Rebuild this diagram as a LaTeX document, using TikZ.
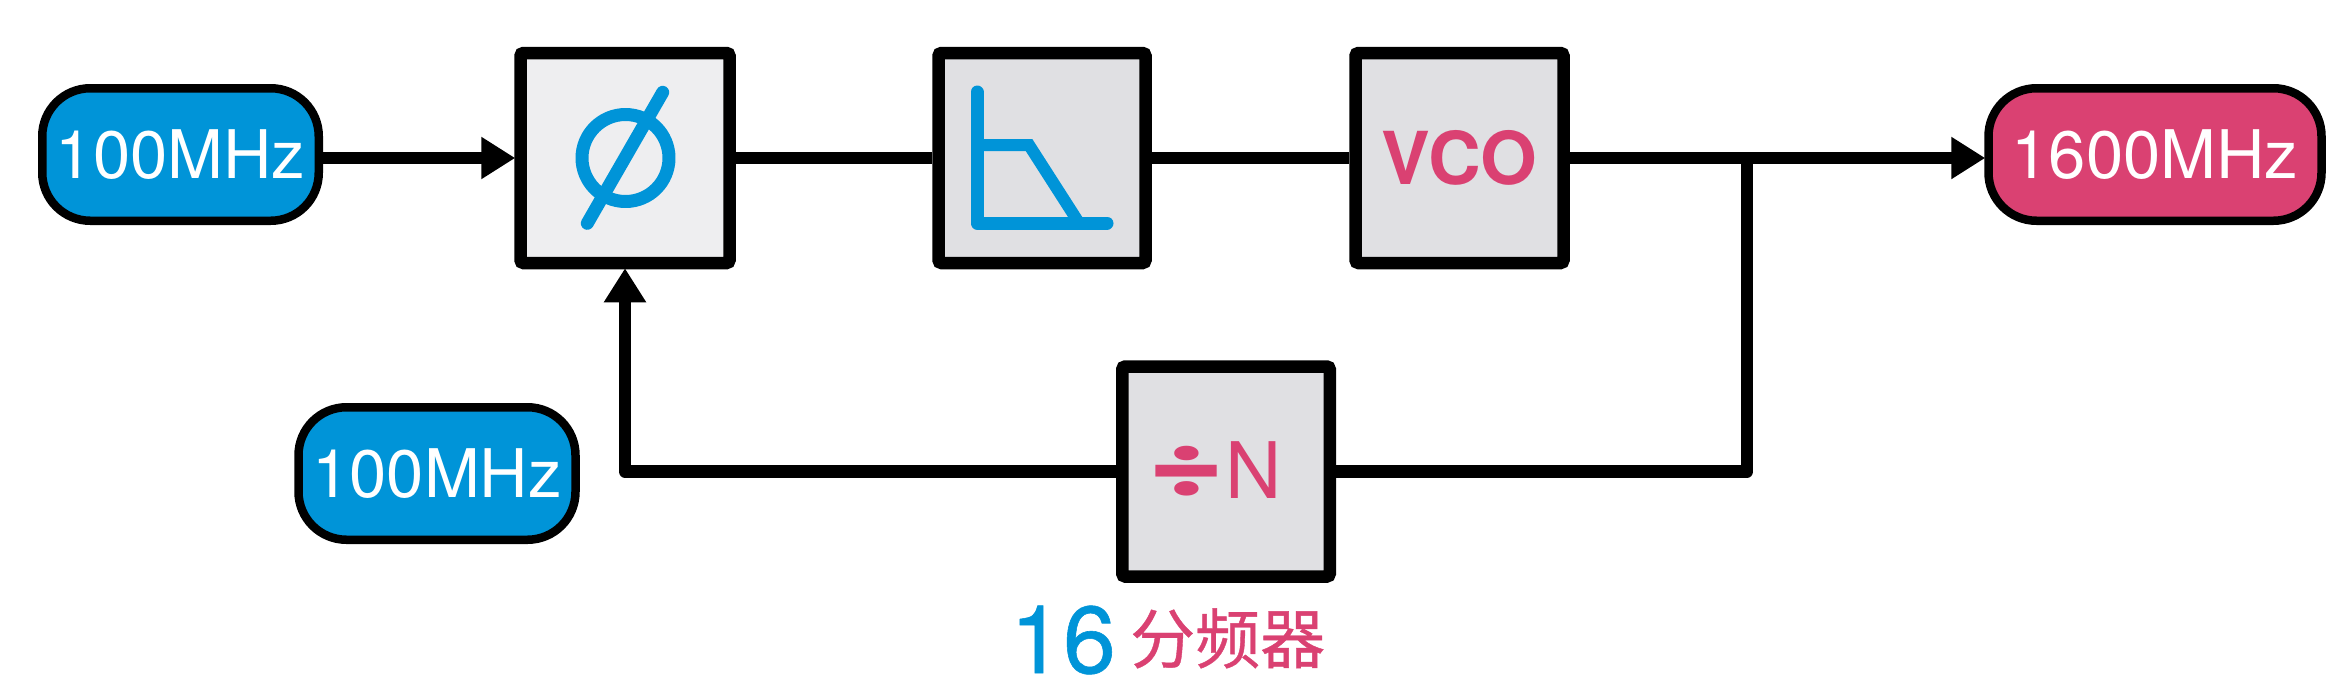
\documentclass[tikz,border=0pt]{standalone}
\usepackage{graphicx}
\usepackage{fontspec}
\setmainfont{TeX Gyre Heros}
\newfontfamily\numfont[FakeBold=0.6]{TeX Gyre Heros}
\newfontfamily\cjk[FakeBold=0.6]{Noto Sans CJK SC}
\newfontfamily\symfont{Poppins}
\usetikzlibrary{arrows.meta}
\definecolor{blueC}{HTML}{0094D8}
\definecolor{pinkC}{HTML}{DA4172}
\definecolor{boxA}{HTML}{EEEEF0}
\definecolor{boxB}{HTML}{E0E0E3}
\tikzset{
  block/.style={draw=black,line width=12.5pt,rounded corners=3pt,inner sep=0pt,minimum width=#1,minimum height=210pt,fill=boxB},
  pill/.style={draw=black,line width=8.5pt,rounded corners=48pt,inner sep=0pt,minimum width=#1,minimum height=132.5pt,text=white,font=\fontsize{67}{70}\selectfont},
  wire/.style={line width=12.5pt,line join=round},
  headwire/.style={wire,-{Triangle[length=34pt,width=40pt]},shorten >=-1pt},
  glyph/.style={blueC,line width=13pt,line cap=round,line join=round},
  mark text/.style={inner sep=0pt,text=pinkC},
}
\begin{document}
\begin{tikzpicture}[x=1pt,y=-1pt]
\useasboundingbox (0,0) rectangle (2343,686);
\fill[white] (0,0) rectangle (2343,686);
% blocks
\node[block=209pt,fill=boxA] (phase) at (625,158) {};
\node[block=207pt] (filter) at (1042,158) {};
\node[block=208pt,font=\fontsize{73}{76}\selectfont\bfseries,text=pinkC] (vco) at (1459.5,158) {VCO};
\node[block=207.5pt] (div) at (1226,471.5) {};
\node[mark text,anchor=base,font=\symfont\bfseries\fontsize{100}{100}\selectfont] (divsign) at (1186,498.5) {\scalebox{1.2}[0.78]{÷}};
\node[mark text,anchor=base,font=\fontsize{78}{80}\selectfont] (divn) at (1254,498) {N};
% pills
\node[pill=276.5pt,fill=blueC] (in) at (180.5,154.5) {\raisebox{-1.5pt}{100MHz}};
\node[pill=333pt,fill=pinkC] (out) at (2155,154.5) {\raisebox{-1.5pt}{1600MHz}};
\node[pill=277pt,fill=blueC] (ref) at (437,473.5) {\raisebox{-1.5pt}{100MHz}};
% labels
\node[anchor=base west,inner sep=0pt,text=blueC,font=\numfont\fontsize{95}{95}\selectfont] (num) at (1010,673) {16};
\node[anchor=base west,inner sep=0pt,text=pinkC,font=\cjk\fontsize{65}{65}\selectfont] (cn) at (1130,663) {分频器};
% connectors
\coordinate (j) at (1747,158);
\draw[headwire] (in.east |- phase.west) -- (phase.west);
\draw[wire] (phase.east) -- (filter.west);
\draw[wire] (filter.east) -- (vco.west);
\draw[wire] (vco.east) -- (j);
\draw[headwire] (j) -- (out.west |- j);
\draw[wire] (j) |- (div.east);
\draw[headwire] (div.west) -| (phase.south);
% phase symbol
\draw[glyph] (625.5,158) circle[radius=43.5pt];
\draw[glyph] (662.7,92.3) -- (587.3,223.3);
% filter symbol
\draw[glyph] (977,92) -- (977,223) -- (1107,223);
\draw[glyph,line width=12pt,line join=miter,line cap=butt] (977,145) -- (1029,145) -- (1079,223);
\end{tikzpicture}
\end{document}
